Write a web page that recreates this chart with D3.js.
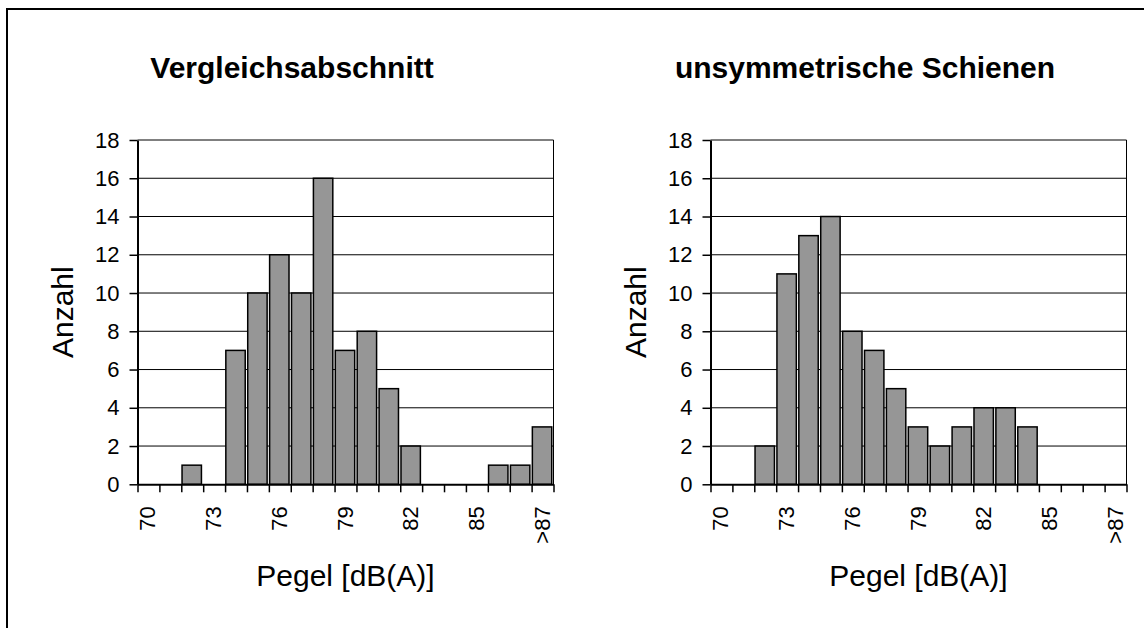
<!DOCTYPE html>
<html>
<head>
<meta charset="utf-8">
<script src="https://cdn.jsdelivr.net/npm/d3@7"></script>
<style>
  html, body { margin: 0; padding: 0; background: #fff; }
  svg { display: block; font-family: "Liberation Sans", Arial, sans-serif; }
</style>
</head>
<body>
<svg id="chart" width="1144" height="628"></svg>
<script>
// Level classes (dB(A)) and the counts per class for both measuring sections
const categories = ["70","71","72","73","74","75","76","77","78","79","80","81","82","83","84","85","86","87",">87"];
const tickLabels = ["70","73","76","79","82","85",">87"];
const countsVergleich = [0,0,1,0,7,10,12,10,16,7,8,5,2,0,0,0,1,1,3];
const countsUnsym     = [0,0,2,11,13,14,8,7,5,3,2,3,4,4,3,0,0,0,0];
const yTicks = [0,2,4,6,8,10,12,14,16,18];
const titles = ["Vergleichsabschnitt", "unsymmetrische Schienen"];
const yTitle = "Anzahl";
const xTitle = "Pegel [dB(A)]";

const svg = d3.select("#chart");

// outer frame (runs off the right and bottom edges)
svg.append("rect")
  .attr("x", 7).attr("y", 9)
  .attr("width", 1200).attr("height", 700)
  .attr("fill", "none").attr("stroke", "#000").attr("stroke-width", 2);

const plotW = 416, plotTop = 140, plotBottom = 484.3;
const panels = [
  { left: 137.5, title: titles[0], data: countsVergleich },
  { left: 710.5, title: titles[1], data: countsUnsym }
];

const y = d3.scaleLinear().domain([0, 18]).range([plotBottom, plotTop]);

panels.forEach(p => {
  const g = svg.append("g").attr("transform", `translate(${p.left},0)`);
  const x = d3.scaleBand().domain(categories).range([0, plotW]).padding(0);
  const xi = d3.scaleLinear().domain([0, categories.length]).range([0, plotW]);
  const step = x.step();

  // horizontal gridlines
  g.append("g").selectAll("line").data(yTicks.filter(v => v > 0)).join("line")
    .attr("x1", 0).attr("x2", plotW)
    .attr("y1", d => y(d)).attr("y2", d => y(d))
    .attr("stroke", "#000").attr("stroke-width", 1);

  // right frame line of the plot area
  g.append("line")
    .attr("x1", plotW).attr("x2", plotW)
    .attr("y1", y(18)).attr("y2", y(0))
    .attr("stroke", "#000").attr("stroke-width", 1);

  // bars
  g.append("g").selectAll("rect")
    .data(categories.map((c, i) => ({ c, v: p.data[i] })).filter(d => d.v > 0))
    .join("rect")
    .attr("x", d => x(d.c) + 0.75)
    .attr("width", step - 2.5)
    .attr("y", d => y(d.v))
    .attr("height", d => y(0) - y(d.v))
    .attr("fill", "#969696")
    .attr("stroke", "#000")
    .attr("stroke-width", 1.5);

  // y axis
  const yAxis = g.append("g")
    .call(d3.axisLeft(y).tickValues(yTicks).tickSize(8).tickPadding(10).tickSizeOuter(0));
  yAxis.select(".domain").attr("stroke", "#000").attr("stroke-width", 2);
  yAxis.selectAll(".tick line").attr("stroke", "#000").attr("stroke-width", 1.5);
  yAxis.selectAll(".tick text")
    .attr("font-size", 22).attr("fill", "#000")
    .attr("font-family", "'Liberation Sans', Arial, sans-serif");

  // x axis: tick marks on the class boundaries
  const xTickAxis = g.append("g").attr("transform", `translate(0,${y(0)})`)
    .call(d3.axisBottom(xi).tickValues(d3.range(categories.length + 1))
      .tickSize(8).tickSizeOuter(0).tickFormat(""));
  xTickAxis.select(".domain").attr("stroke", "#000").attr("stroke-width", 2);
  xTickAxis.selectAll(".tick line").attr("stroke", "#000").attr("stroke-width", 1.5);

  // x axis: rotated labels in the class centres
  const xLabelAxis = g.append("g").attr("transform", `translate(0,${y(0)})`)
    .call(d3.axisBottom(x).tickValues(tickLabels).tickSize(0).tickPadding(0));
  xLabelAxis.select(".domain").remove();
  xLabelAxis.selectAll(".tick text")
    .attr("font-size", 22).attr("fill", "#000")
    .attr("font-family", "'Liberation Sans', Arial, sans-serif")
    .attr("text-anchor", "end")
    .attr("transform", "translate(0,22) rotate(-90)")
    .attr("x", 0).attr("y", 0).attr("dy", "0.32em");

  // chart title
  g.append("text")
    .attr("x", 292 - 137.5).attr("y", 78)
    .attr("text-anchor", "middle")
    .attr("font-size", 30).attr("font-weight", "bold").attr("fill", "#000")
    .text(p.title);

  // axis titles
  g.append("text")
    .attr("transform", `translate(${73 - 137.5},${(plotTop + plotBottom) / 2}) rotate(-90)`)
    .attr("text-anchor", "middle")
    .attr("font-size", 30).attr("fill", "#000")
    .text(yTitle);

  g.append("text")
    .attr("x", plotW / 2).attr("y", 586)
    .attr("text-anchor", "middle")
    .attr("font-size", 30).attr("fill", "#000")
    .text(xTitle);
});
</script>
</body>
</html>
